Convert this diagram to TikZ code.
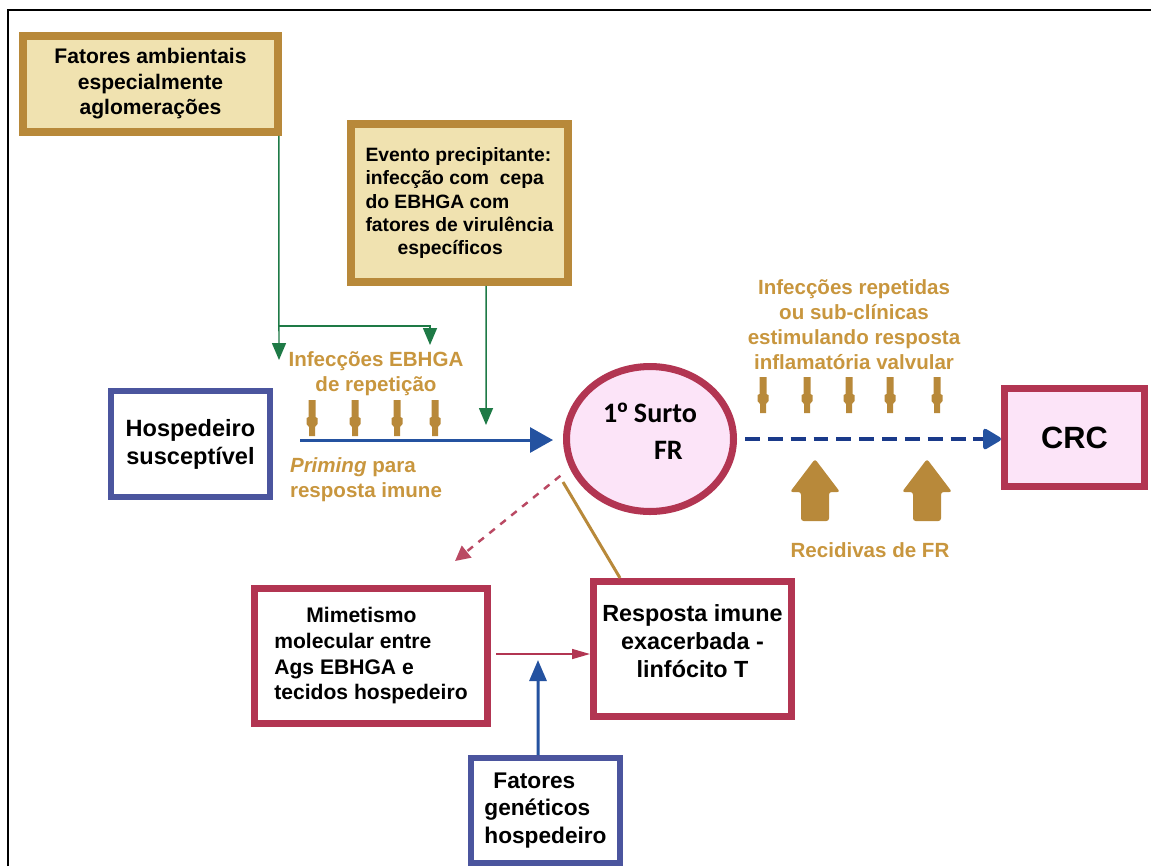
\documentclass[tikz,border=0pt]{standalone}
\usepackage{fontspec}
\setmainfont{Liberation Sans}
\newfontfamily\calibri{Carlito}
\usetikzlibrary{arrows.meta,shapes.geometric}
\definecolor{gold}{RGB}{184,137,58}
\definecolor{goldfill}{RGB}{240,226,176}
\definecolor{goldtxt}{RGB}{200,150,62}
\definecolor{crimson}{RGB}{178,53,82}
\definecolor{pinkfill}{RGB}{252,228,248}
\definecolor{navy}{RGB}{75,85,158}
\definecolor{leaf}{RGB}{30,122,70}
\definecolor{arrowblue}{RGB}{36,82,160}
\definecolor{dashblue}{RGB}{26,58,138}
\tikzset{
    every node/.style={
        font=\bfseries
    },
    goldbox/.style={
        shape=rectangle,
        draw=gold,
        fill=goldfill,
        line width=4.5pt,
        inner sep=0pt
    },
    bluebox/.style={
        shape=rectangle,
        draw=navy,
        fill=white,
        line width=3.4pt,
        inner sep=0pt
    },
    redbox/.style={
        shape=rectangle,
        draw=crimson,
        fill=white,
        line width=4pt,
        inner sep=0pt
    },
    goldtext/.style={
        text=goldtxt,
        font=\bfseries\fontsize{11.7}{14.2}\selectfont
    },
    pin/.pic={
        \fill[gold] (-3.5,0) -- (3.5,0) -- (3.5,17) -- (5.5,18) -- (5.5,24) -- (3,27) -- (3,36)
            -- (-3,36) -- (-3,27) -- (-5.5,24) -- (-5.5,18) -- (-3.5,17) -- cycle;
    },
    bigup/.pic={
        \fill[gold, rounded corners=1.5pt] (0,0) -- (25,33) -- (14,33) -- (14,62) -- (-14,62)
            -- (-14,33) -- (-25,33) -- cycle;
    }
}

\begin{document}
\begin{tikzpicture}[
		x=0.02cm, y=-0.02cm,
		greenline/.style={leaf, line width=0.85pt, -{Triangle[length=0.34cm, width=0.28cm]}}
		]
		\useasboundingbox (0,0) rectangle (1151,866);
		\draw [line width=1.7pt] (8,866) -- (8,10) -- (1151,10);
		
		\node (fa) at (150.5,84) [goldbox, minimum width=5.1cm, minimum height=1.92cm, align=center, font=\bfseries\fontsize{12}{14.5}\selectfont] {Fatores ambientais\\especialmente\\aglomerações};
		\node (ev) at (459.5,203) [goldbox, minimum width=4.34cm, minimum height=3.16cm, align=left, font=\bfseries\fontsize{11}{13.3}\selectfont] {Evento precipitante:\\ infecção com\ \ cepa\\ do EBHGA com\\ fatores de virulência\\\hspace*{0.64cm}específicos};
		\node (hs) at (190.5,444) [bluebox, minimum width=3.18cm, minimum height=2.12cm, align=center, font=\bfseries\fontsize{13.4}{16}\selectfont] {Hospedeiro\\susceptível};
		\node (fr) at (650,439) [ellipse, draw=crimson, fill=pinkfill, line width=4pt, minimum width=3.34cm, minimum height=2.9cm, inner sep=0pt, align=left, text depth=0.3cm, font=\calibri\bfseries\fontsize{16}{21}\selectfont] {1{\rmfamily º} Surto\\\hspace*{1.02cm}FR};
		\node (crc) at (1074.5,437.5) [redbox, fill=pinkfill, minimum width=2.8cm, minimum height=1.96cm, font=\bfseries\fontsize{17.5}{20}\selectfont] {CRC};
		\node (mm) at (371,656) [redbox, minimum width=4.66cm, minimum height=2.7cm, align=left, font=\bfseries\fontsize{12}{14.6}\selectfont] {\hspace*{0.64cm}Mimetismo\\molecular entre\\Ags EBHGA e\\tecidos hospedeiro};
		\node (ri) at (692.5,649) [redbox, minimum width=3.96cm, minimum height=2.7cm, align=center, text depth=0.32cm, font=\bfseries\fontsize{13.3}{16.2}\selectfont] {Resposta imune\\exacerbada -\\linfócito T};
		\node (fg) at (545.5,810.5) [bluebox, minimum width=2.98cm, minimum height=2.1cm, align=left, font=\bfseries\fontsize{12.9}{15.9}\selectfont] {\hspace*{0.18cm}Fatores\\genéticos\\hospedeiro};
		
		\node (ie) at (376,374) [goldtext, align=center] {Infecções EBHGA\\de repetição};
		\node (pr) at (366,480) [goldtext, align=left] {\textit{Priming} para\\resposta imune};
		\node (ir) at (854,325) [goldtext, align=center] {Infecções repetidas\\ou sub-clínicas\\estimulando resposta\\inflamatória valvular};
		\node (rec) at (870,550) [goldtext] {Recidivas de FR};
		
		\foreach \x in {312,355,397,435}
			\pic at (\x,400) {pin};
		\begin{scope}[shift={(0,377)}, yscale=1.2]
			\foreach \x in {763,807,849,890,937}
				\pic at (\x,0) {pin};
		\end{scope}
		\foreach \x in {815,927}
			\pic at (\x,459) {bigup};
		
		\coordinate (ga) at (279,360);
		\coordinate (gb) at (279,326);
		\coordinate (gc) at (430,345);
		\coordinate (gd) at (486,425);
		\coordinate (b0) at (300,440);
		\coordinate (md) at (455,561);
		\coordinate (gs) at (563,482);
		\coordinate (fu) at (538,660);
		
		\draw [greenline] ([xshift=-0.06cm]fa.south east) -- (ga);
		\draw [greenline] (gb) -| (gc);
		\draw [greenline] ([xshift=0.53cm]ev.south) -- (gd);
		\draw [arrowblue, line width=1.7pt, -{Triangle[length=0.46cm, width=0.5cm]}, shorten >=0.2cm] (b0) -- (b0 -| fr.west);
		\draw [dashblue, line width=2.3pt, dash pattern=on 8.5pt off 4.5pt, -{Triangle[round, length=0.4cm, width=0.45cm, color=arrowblue]}, shorten <=0.16cm] (fr.east) -- (fr.east -| crc.west);
		\draw [crimson!90, line width=1.4pt, dash pattern=on 4pt off 4pt, -{Triangle[length=0.3cm, width=0.3cm]}, shorten <=0.24cm] (fr.200) -- (md);
		\draw [gold, line width=1.7pt] (gs) -- ([xshift=0.6cm]ri.north west);
		\draw [crimson, line width=0.9pt, -{Triangle[length=0.36cm, width=0.2cm]}] ([xshift=0.1cm, yshift=0.04cm]mm.east) -- ([yshift=0.04cm]mm.east -| ri.west);
		\draw [arrowblue, line width=1.7pt, -{Triangle[length=0.42cm, width=0.34cm]}] ([xshift=-0.15cm]fg.north) -- (fu);
	\end{tikzpicture}
\end{document}
